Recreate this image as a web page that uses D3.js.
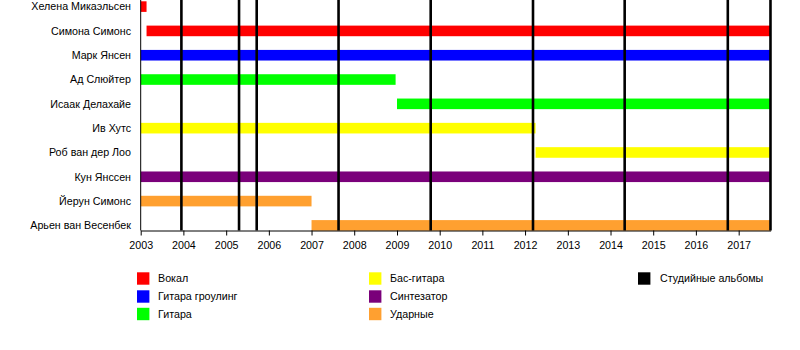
<!DOCTYPE html>
<html>
<head>
<meta charset="utf-8">
<script src="https://cdn.jsdelivr.net/npm/d3@7"></script>
<style>
  body { margin: 0; background: #fff; }
  svg { display: block; font-family: "Liberation Sans", Arial, sans-serif; }
</style>
</head>
<body>
<svg id="chart" width="800" height="350"></svg>
<script>
// Band members, top to bottom
const members = [
  "Хелена Микаэльсен", "Симона Симонс", "Марк Янсен", "Ад Слюйтер",
  "Исаак Делахайе", "Ив Хутс", "Роб ван дер Лоо", "Кун Янссен",
  "Йерун Симонс", "Арьен ван Весенбек"
];
// Role of each member (key into roleNames / roleColors)
const memberRoles = [
  "vocal", "vocal", "growl", "guitar", "guitar",
  "bass", "bass", "synth", "drums", "drums"
];
const memberStart = [
  "2003-01-01", "2003-02-20", "2003-01-01", "2003-01-01", "2009-01-01",
  "2003-01-01", "2012-03-31", "2003-01-01", "2003-01-01", "2007-01-01"
];
const memberEnd = [
  "2003-02-20", "2017-10-01", "2017-10-01", "2008-12-20", "2017-10-01",
  "2012-03-31", "2017-10-01", "2017-10-01", "2007-01-01", "2017-10-01"
];

// Studio album release dates
const albums = [
  "2003-12-15", "2005-04-21", "2005-09-19", "2007-08-20", "2009-10-16",
  "2012-03-09", "2014-05-02", "2016-09-30", "2017-09-30"
];

// Legend: roles
const roleKeys = ["vocal", "growl", "guitar", "bass", "synth", "drums"];
const roleNames = ["Вокал", "Гитара гроулинг", "Гитара", "Бас-гитара", "Синтезатор", "Ударные"];
const roleColors = ["#ff0000", "#0000ff", "#00ff00", "#ffff00", "#7a007a", "#ffa030"];
const albumLegend = "Студийные альбомы";

const periodStart = "2003-01-01";
const periodEnd = "2017-10-01";

const parse = d3.utcParse("%Y-%m-%d");
const svg = d3.select("#chart");

const x = d3.scaleUtc()
  .domain([parse(periodStart), parse(periodEnd)])
  .range([140.7, 770.6]);

const y = d3.scalePoint()
  .domain(members)
  .range([6.6, 225.4]);

const color = d3.scaleOrdinal().domain(roleKeys).range(roleColors);
const barH = 10.6;
const axisY = 230.5;
const fontSize = 10.7;

const rows = members.map((m, i) => ({
  name: m, role: memberRoles[i],
  start: parse(memberStart[i]), end: parse(memberEnd[i])
}));

// Member bars
svg.append("g").selectAll("rect").data(rows).join("rect")
  .attr("x", d => x(d.start))
  .attr("width", d => x(d.end) - x(d.start))
  .attr("y", d => y(d.name) - barH / 2)
  .attr("height", barH)
  .attr("fill", d => color(d.role));

// Album release lines
svg.append("g").selectAll("line").data(albums).join("line")
  .attr("x1", d => x(parse(d))).attr("x2", d => x(parse(d)))
  .attr("y1", 0).attr("y2", axisY)
  .attr("stroke", "#000").attr("stroke-width", 2.6);

// Member names
svg.append("g").selectAll("text").data(members).join("text")
  .attr("x", 131)
  .attr("y", d => y(d))
  .attr("dy", "0.35em")
  .attr("text-anchor", "end")
  .attr("font-size", fontSize)
  .attr("fill", "#000")
  .text(d => d);

// Left edge
svg.append("line")
  .attr("x1", x.range()[0]).attr("x2", x.range()[0])
  .attr("y1", 0).attr("y2", axisY)
  .attr("stroke", "#000").attr("stroke-width", 1);

// Time axis
const axis = d3.axisBottom(x)
  .ticks(d3.utcYear.every(1))
  .tickFormat(d3.utcFormat("%Y"))
  .tickSize(5)
  .tickSizeOuter(0);
const gAxis = svg.append("g")
  .attr("transform", `translate(0,${axisY})`)
  .call(axis);
gAxis.select(".domain").attr("stroke", "#000");
gAxis.selectAll(".tick line").attr("stroke", "#000");
gAxis.selectAll(".tick text")
  .attr("font-size", fontSize)
  .attr("font-family", "Liberation Sans, Arial, sans-serif")
  .attr("fill", "#000")
  .attr("y", 11);

// Legend
const legendCols = [137, 369, 638];
const legendRowY = [278.5, 296.5, 314];
const legend = svg.append("g");
roleKeys.forEach((k, i) => {
  const col = Math.floor(i / 3), row = i % 3;
  const g = legend.append("g");
  g.append("rect")
    .attr("x", legendCols[col]).attr("y", legendRowY[row] - 6.2)
    .attr("width", 12.4).attr("height", 12.4)
    .attr("fill", color(k));
  g.append("text")
    .attr("x", legendCols[col] + 21).attr("y", legendRowY[row])
    .attr("dy", "0.35em")
    .attr("font-size", fontSize).attr("fill", "#000")
    .text(roleNames[i]);
});
const ga = legend.append("g");
ga.append("rect")
  .attr("x", legendCols[2]).attr("y", legendRowY[0] - 6.2)
  .attr("width", 12.4).attr("height", 12.4).attr("fill", "#000");
ga.append("text")
  .attr("x", legendCols[2] + 22).attr("y", legendRowY[0])
  .attr("dy", "0.35em")
  .attr("font-size", fontSize).attr("fill", "#000")
  .text(albumLegend);
</script>
</body>
</html>
